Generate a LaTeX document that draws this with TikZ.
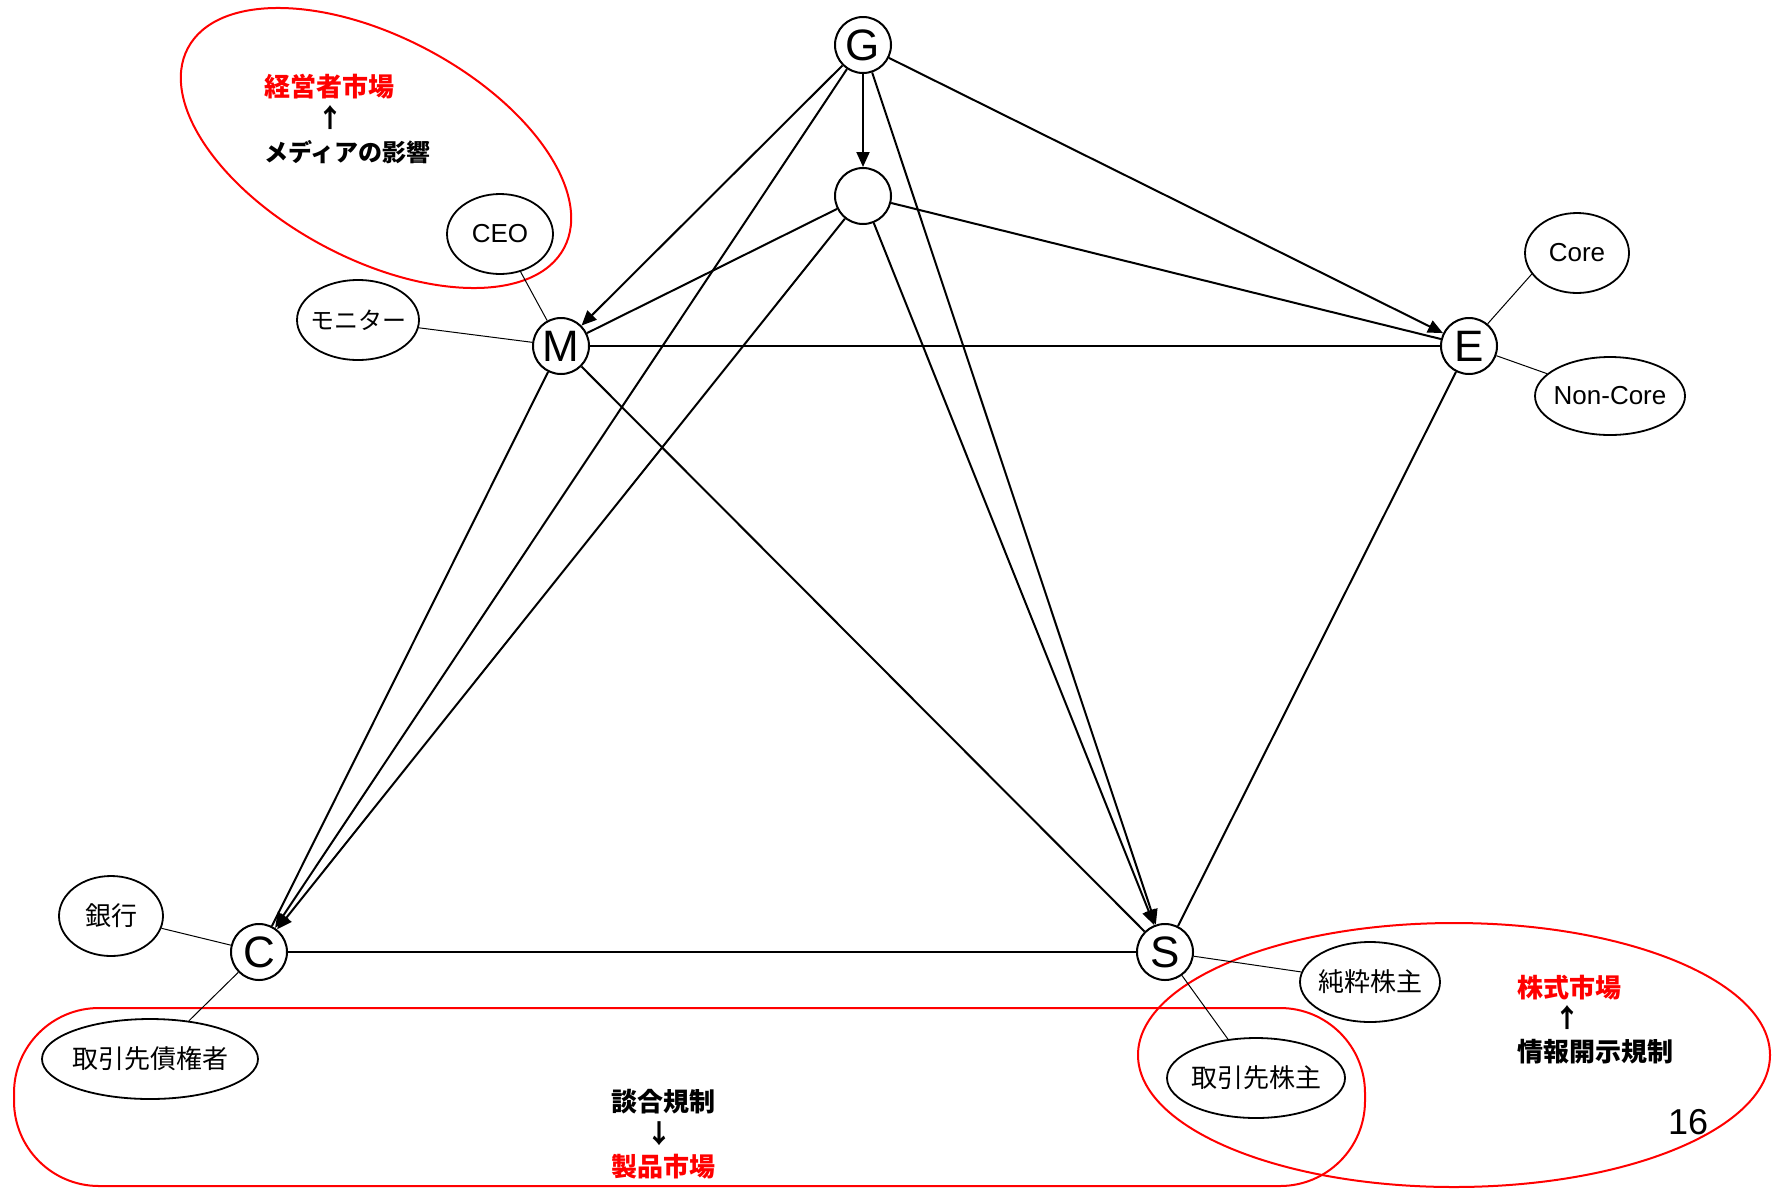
\documentclass[tikz,border=0pt]{standalone}
\usepackage{fontspec}
\setmainfont{Liberation Sans}
\newfontfamily\cjk{Noto Sans CJK JP}
\usetikzlibrary{shapes.geometric,arrows.meta}
\tikzset{
 mainnode/.style={circle, draw, line width=2pt, minimum size=56pt, inner sep=0pt, font=\fontsize{44}{44}\selectfont},
 sub/.style={ellipse, draw, line width=1.8pt, inner ysep=0pt, inner xsep=-20pt, font=\fontsize{26}{26}\selectfont},
 subjp/.style={sub, font=\cjk\fontsize{26}{26}\selectfont},
 link/.style={line width=2pt},
 arr/.style={line width=2pt, -{Triangle[length=15pt,width=13pt]}},
 thinlink/.style={line width=1pt},
 market/.style={draw=red, line width=2pt},
 jpb/.style={font=\cjk\bfseries\fontsize{26}{26}\selectfont, inner sep=0pt},
 redtext/.style={jpb, text=red},
}
\begin{document}
\begin{tikzpicture}[x=1pt,y=1pt]
\useasboundingbox (0,0) rectangle (1774,-1189);
\fill[white] (0,0) rectangle (1774,-1189);
% market regions
\draw[market, rotate around={-28:(376,-148)}] (376,-148) ellipse [x radius=213, y radius=111];
\draw[market, rounded corners=85pt] (14,-1008) rectangle (1365,-1186);
\draw[market] (1454,-1055) ellipse [x radius=316, y radius=132];
% main nodes
\node[mainnode] (G) at (863,-45) {G};
\node[mainnode] (X) at (863,-196) {};
\node[mainnode] (M) at (561,-346) {M};
\node[mainnode] (E) at (1469,-346) {E};
\node[mainnode] (C) at (259,-952) {C};
\node[mainnode] (S) at (1165,-952) {S};
% sub nodes
\node[sub, minimum width=106pt, minimum height=80pt] (ceo) at (500,-234) {CEO};
\node[subjp, minimum width=122pt, minimum height=80pt, font=\cjk\fontsize{24}{24}\selectfont] (mon) at (358,-320) {モニター};
\node[sub, minimum width=104pt, minimum height=80pt] (core) at (1577,-253) {Core};
\node[sub, minimum width=150pt, minimum height=78pt] (noncore) at (1610,-396) {Non-Core};
\node[subjp, minimum width=216pt, minimum height=80pt] (cred) at (150,-1059) {取引先債権者};
\node[subjp, minimum width=104pt, minimum height=80pt] (bank) at (111,-916) {銀行};
\node[subjp, minimum width=140pt, minimum height=80pt] (pure) at (1370,-982) {純粋株主};
\node[subjp, minimum width=178pt, minimum height=80pt] (trade) at (1256,-1078) {取引先株主};
% texts
\node[redtext, anchor=west] (t1) at (264,-87) {経営者市場};
\node[jpb] (a1) at (330,-118) {↑};
\node[jpb, anchor=west, font=\cjk\bfseries\fontsize{24}{24}\selectfont] (t2) at (264,-152) {メディアの影響};
\node[jpb] (t3) at (663,-1102) {談合規制};
\node[jpb] (a2) at (659,-1134) {↓};
\node[redtext] (t4) at (663,-1167) {製品市場};
\node[redtext, anchor=west] (t5) at (1517,-988) {株式市場};
\node[jpb] (a3) at (1567,-1018) {↑};
\node[jpb, anchor=west] (t6) at (1517,-1052) {情報開示規制};
\node[font=\fontsize{36}{36}\selectfont, inner sep=0pt] (pg) at (1688,-1122) {16};
% connectors
\draw[arr] (G) -- (M);
\draw[arr] (G) -- (C);
\draw[arr] (G) -- (X);
\draw[arr] (G) -- (E);
\draw[arr] (G) -- (S);
\draw[link] (X) -- (M);
\draw[link] (X) -- (E);
\draw[arr] (X) -- (C);
\draw[arr] (X) -- (S);
\draw[link] (M) -- (E);
\draw[link] (M) -- (C);
\draw[link] (M) -- (S);
\draw[link] (E) -- (S);
\draw[link] (C) -- (S);
% thin links
\draw[thinlink] (ceo) -- (M);
\draw[thinlink] (mon) -- (M);
\draw[thinlink] (core.205) -- (E.50);
\draw[thinlink] (noncore) -- (E);
\draw[thinlink] (bank) -- (C);
\draw[thinlink] (cred) -- (C);
\draw[thinlink] (pure) -- (S);
\draw[thinlink] (trade) -- (S);
\end{tikzpicture}
\end{document}
